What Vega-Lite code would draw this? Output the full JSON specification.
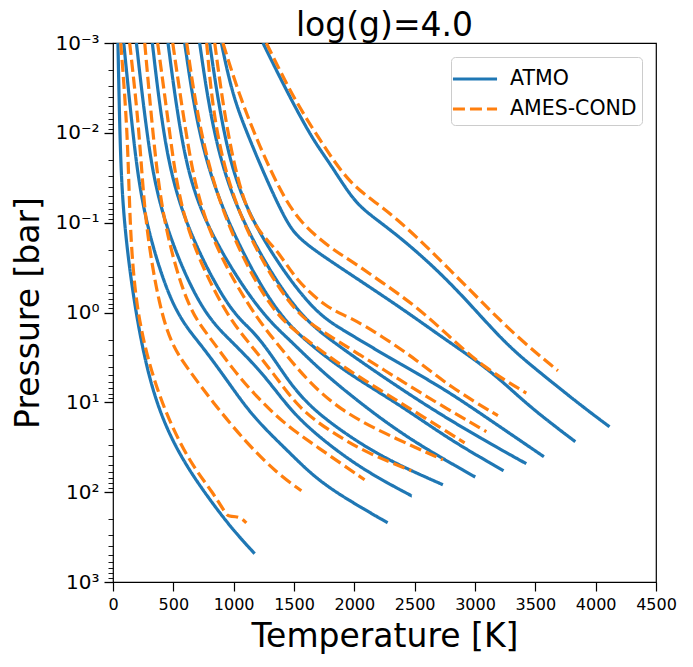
{
  "$schema": "https://vega.github.io/schema/vega-lite/v6.json",
  "width": 543,
  "height": 539,
  "autosize": {"type": "none"},
  "padding": {"left": 113, "top": 43, "right": 37, "bottom": 85},
  "title": {"text": "log(g)=4.0", "fontSize": 33, "font": "DejaVu Sans", "fontWeight": "normal", "color": "black", "anchor": "middle", "offset": -10},
  "config": {
    "font": "DejaVu Sans",
    "view": {"stroke": "black", "strokeWidth": 1.2},
    "axis": {"domain": false, "grid": false, "tickColor": "black", "tickWidth": 1.2, "labelColor": "black", "titleColor": "black", "titleFontWeight": "normal", "labelFont": "DejaVu Sans", "titleFont": "DejaVu Sans"}
  },
  "data": {
    "values": [
      {"model": "ATMO", "id": "a1", "T": 41, "P": 0.001},
      {"model": "ATMO", "id": "a1", "T": 56, "P": 0.01},
      {"model": "ATMO", "id": "a1", "T": 80, "P": 0.0815},
      {"model": "ATMO", "id": "a1", "T": 180, "P": 0.931},
      {"model": "ATMO", "id": "a1", "T": 304, "P": 6.05},
      {"model": "ATMO", "id": "a1", "T": 445, "P": 20.2},
      {"model": "ATMO", "id": "a1", "T": 611, "P": 52.1},
      {"model": "ATMO", "id": "a1", "T": 801, "P": 121},
      {"model": "ATMO", "id": "a1", "T": 992, "P": 262},
      {"model": "ATMO", "id": "a1", "T": 1174, "P": 484},

      {"model": "ATMO", "id": "a2", "T": 89, "P": 0.001},
      {"model": "ATMO", "id": "a2", "T": 163, "P": 0.01},
      {"model": "ATMO", "id": "a2", "T": 246, "P": 0.0815},
      {"model": "ATMO", "id": "a2", "T": 486, "P": 0.931},
      {"model": "ATMO", "id": "a2", "T": 718, "P": 2.17},
      {"model": "ATMO", "id": "a2", "T": 942, "P": 5.6},
      {"model": "ATMO", "id": "a2", "T": 1157, "P": 14.5},
      {"model": "ATMO", "id": "a2", "T": 1439, "P": 33.7},
      {"model": "ATMO", "id": "a2", "T": 1688, "P": 72.7},
      {"model": "ATMO", "id": "a2", "T": 1986, "P": 131},
      {"model": "ATMO", "id": "a2", "T": 2276, "P": 219},

      {"model": "ATMO", "id": "a3", "T": 194, "P": 0.001},
      {"model": "ATMO", "id": "a3", "T": 277, "P": 0.01},
      {"model": "ATMO", "id": "a3", "T": 387, "P": 0.0815},
      {"model": "ATMO", "id": "a3", "T": 718, "P": 0.931},
      {"model": "ATMO", "id": "a3", "T": 967, "P": 2.01},
      {"model": "ATMO", "id": "a3", "T": 1241, "P": 4.68},
      {"model": "ATMO", "id": "a3", "T": 1464, "P": 12.1},
      {"model": "ATMO", "id": "a3", "T": 1712, "P": 24.8},
      {"model": "ATMO", "id": "a3", "T": 2069, "P": 56.3},
      {"model": "ATMO", "id": "a3", "T": 2475, "P": 110},
      {"model": "ATMO", "id": "a3", "T": 2476, "P": 110},

      {"model": "ATMO", "id": "a4", "T": 326, "P": 0.001},
      {"model": "ATMO", "id": "a4", "T": 412, "P": 0.01},
      {"model": "ATMO", "id": "a4", "T": 553, "P": 0.0815},
      {"model": "ATMO", "id": "a4", "T": 950, "P": 0.931},
      {"model": "ATMO", "id": "a4", "T": 1157, "P": 1.556},
      {"model": "ATMO", "id": "a4", "T": 1323, "P": 3.11},
      {"model": "ATMO", "id": "a4", "T": 1464, "P": 6.05},
      {"model": "ATMO", "id": "a4", "T": 1605, "P": 10.1},
      {"model": "ATMO", "id": "a4", "T": 1795, "P": 16.9},
      {"model": "ATMO", "id": "a4", "T": 2210, "P": 40.3},
      {"model": "ATMO", "id": "a4", "T": 2734, "P": 82.7},

      {"model": "ATMO", "id": "a5", "T": 456, "P": 0.001},
      {"model": "ATMO", "id": "a5", "T": 553, "P": 0.01},
      {"model": "ATMO", "id": "a5", "T": 702, "P": 0.0815},
      {"model": "ATMO", "id": "a5", "T": 1191, "P": 0.931},
      {"model": "ATMO", "id": "a5", "T": 1464, "P": 2.01},
      {"model": "ATMO", "id": "a5", "T": 1712, "P": 4.33},
      {"model": "ATMO", "id": "a5", "T": 2044, "P": 10.1},
      {"model": "ATMO", "id": "a5", "T": 2458, "P": 26.1},
      {"model": "ATMO", "id": "a5", "T": 3002, "P": 67.8},

      {"model": "ATMO", "id": "a6", "T": 594, "P": 0.001},
      {"model": "ATMO", "id": "a6", "T": 702, "P": 0.01},
      {"model": "ATMO", "id": "a6", "T": 909, "P": 0.0815},
      {"model": "ATMO", "id": "a6", "T": 1323, "P": 0.931},
      {"model": "ATMO", "id": "a6", "T": 1630, "P": 2.28},
      {"model": "ATMO", "id": "a6", "T": 1961, "P": 4.92},
      {"model": "ATMO", "id": "a6", "T": 2375, "P": 10.6},
      {"model": "ATMO", "id": "a6", "T": 2790, "P": 26.1},
      {"model": "ATMO", "id": "a6", "T": 3237, "P": 57.7},

      {"model": "ATMO", "id": "a7", "T": 718, "P": 0.001},
      {"model": "ATMO", "id": "a7", "T": 826, "P": 0.01},
      {"model": "ATMO", "id": "a7", "T": 1025, "P": 0.0815},
      {"model": "ATMO", "id": "a7", "T": 1489, "P": 0.931},
      {"model": "ATMO", "id": "a7", "T": 1795, "P": 2.01},
      {"model": "ATMO", "id": "a7", "T": 2210, "P": 4.92},
      {"model": "ATMO", "id": "a7", "T": 2624, "P": 11.5},
      {"model": "ATMO", "id": "a7", "T": 3038, "P": 24.8},
      {"model": "ATMO", "id": "a7", "T": 3425, "P": 48.2},

      {"model": "ATMO", "id": "a8", "T": 801, "P": 0.001},
      {"model": "ATMO", "id": "a8", "T": 909, "P": 0.01},
      {"model": "ATMO", "id": "a8", "T": 1091, "P": 0.0815},
      {"model": "ATMO", "id": "a8", "T": 1630, "P": 0.931},
      {"model": "ATMO", "id": "a8", "T": 1903, "P": 1.556},
      {"model": "ATMO", "id": "a8", "T": 2317, "P": 3.36},
      {"model": "ATMO", "id": "a8", "T": 2732, "P": 6.88},
      {"model": "ATMO", "id": "a8", "T": 3121, "P": 15.6},
      {"model": "ATMO", "id": "a8", "T": 3571, "P": 40.3},

      {"model": "ATMO", "id": "a9", "T": 898, "P": 0.001},
      {"model": "ATMO", "id": "a9", "T": 992, "P": 0.00396},
      {"model": "ATMO", "id": "a9", "T": 1133, "P": 0.0119},
      {"model": "ATMO", "id": "a9", "T": 1273, "P": 0.0333},
      {"model": "ATMO", "id": "a9", "T": 1439, "P": 0.1},
      {"model": "ATMO", "id": "a9", "T": 1547, "P": 0.155},
      {"model": "ATMO", "id": "a9", "T": 1820, "P": 0.279},
      {"model": "ATMO", "id": "a9", "T": 2375, "P": 0.861},
      {"model": "ATMO", "id": "a9", "T": 2732, "P": 1.91},
      {"model": "ATMO", "id": "a9", "T": 3146, "P": 4.56},
      {"model": "ATMO", "id": "a9", "T": 3427, "P": 10.6},
      {"model": "ATMO", "id": "a9", "T": 3831, "P": 27.4},

      {"model": "ATMO", "id": "a10", "T": 1243, "P": 0.001},
      {"model": "ATMO", "id": "a10", "T": 1323, "P": 0.00166},
      {"model": "ATMO", "id": "a10", "T": 1464, "P": 0.00396},
      {"model": "ATMO", "id": "a10", "T": 1655, "P": 0.0119},
      {"model": "ATMO", "id": "a10", "T": 1795, "P": 0.0215},
      {"model": "ATMO", "id": "a10", "T": 1986, "P": 0.0555},
      {"model": "ATMO", "id": "a10", "T": 2127, "P": 0.0815},
      {"model": "ATMO", "id": "a10", "T": 2375, "P": 0.143},
      {"model": "ATMO", "id": "a10", "T": 2732, "P": 0.379},
      {"model": "ATMO", "id": "a10", "T": 3038, "P": 1.06},
      {"model": "ATMO", "id": "a10", "T": 3287, "P": 2.46},
      {"model": "ATMO", "id": "a10", "T": 3560, "P": 4.92},
      {"model": "ATMO", "id": "a10", "T": 3892, "P": 11.2},
      {"model": "ATMO", "id": "a10", "T": 4115, "P": 18.7},

      {"model": "AMES-COND", "id": "c1", "T": 64, "P": 0.001},
      {"model": "AMES-COND", "id": "c1", "T": 122, "P": 0.01},
      {"model": "AMES-COND", "id": "c1", "T": 138, "P": 0.1},
      {"model": "AMES-COND", "id": "c1", "T": 188, "P": 0.931},
      {"model": "AMES-COND", "id": "c1", "T": 331, "P": 5.6},
      {"model": "AMES-COND", "id": "c1", "T": 497, "P": 20.2},
      {"model": "AMES-COND", "id": "c1", "T": 663, "P": 52.1},
      {"model": "AMES-COND", "id": "c1", "T": 829, "P": 101},
      {"model": "AMES-COND", "id": "c1", "T": 940, "P": 180},
      {"model": "AMES-COND", "id": "c1", "T": 960, "P": 186},
      {"model": "AMES-COND", "id": "c1", "T": 1050, "P": 186},
      {"model": "AMES-COND", "id": "c1", "T": 1105, "P": 220},

      {"model": "AMES-COND", "id": "c2", "T": 138, "P": 0.001},
      {"model": "AMES-COND", "id": "c2", "T": 221, "P": 0.01},
      {"model": "AMES-COND", "id": "c2", "T": 263, "P": 0.1},
      {"model": "AMES-COND", "id": "c2", "T": 387, "P": 0.931},
      {"model": "AMES-COND", "id": "c2", "T": 495, "P": 2.4},
      {"model": "AMES-COND", "id": "c2", "T": 608, "P": 4.01},
      {"model": "AMES-COND", "id": "c2", "T": 829, "P": 10.1},
      {"model": "AMES-COND", "id": "c2", "T": 1105, "P": 28.2},
      {"model": "AMES-COND", "id": "c2", "T": 1354, "P": 60.8},
      {"model": "AMES-COND", "id": "c2", "T": 1561, "P": 96.4},

      {"model": "AMES-COND", "id": "c3", "T": 263, "P": 0.001},
      {"model": "AMES-COND", "id": "c3", "T": 329, "P": 0.01},
      {"model": "AMES-COND", "id": "c3", "T": 412, "P": 0.1},
      {"model": "AMES-COND", "id": "c3", "T": 619, "P": 0.931},
      {"model": "AMES-COND", "id": "c3", "T": 801, "P": 1.86},
      {"model": "AMES-COND", "id": "c3", "T": 994, "P": 4.33},
      {"model": "AMES-COND", "id": "c3", "T": 1188, "P": 8.6},
      {"model": "AMES-COND", "id": "c3", "T": 1409, "P": 16.9},
      {"model": "AMES-COND", "id": "c3", "T": 1685, "P": 31.0},
      {"model": "AMES-COND", "id": "c3", "T": 2085, "P": 72.7},

      {"model": "AMES-COND", "id": "c4", "T": 370, "P": 0.001},
      {"model": "AMES-COND", "id": "c4", "T": 470, "P": 0.01},
      {"model": "AMES-COND", "id": "c4", "T": 569, "P": 0.1},
      {"model": "AMES-COND", "id": "c4", "T": 909, "P": 0.931},
      {"model": "AMES-COND", "id": "c4", "T": 1105, "P": 2.01},
      {"model": "AMES-COND", "id": "c4", "T": 1326, "P": 4.68},
      {"model": "AMES-COND", "id": "c4", "T": 1547, "P": 12.1},
      {"model": "AMES-COND", "id": "c4", "T": 1820, "P": 21.8},
      {"model": "AMES-COND", "id": "c4", "T": 2099, "P": 36.4},
      {"model": "AMES-COND", "id": "c4", "T": 2472, "P": 57.7},

      {"model": "AMES-COND", "id": "c5", "T": 495, "P": 0.001},
      {"model": "AMES-COND", "id": "c5", "T": 602, "P": 0.01},
      {"model": "AMES-COND", "id": "c5", "T": 735, "P": 0.1},
      {"model": "AMES-COND", "id": "c5", "T": 1133, "P": 0.931},
      {"model": "AMES-COND", "id": "c5", "T": 1381, "P": 2.4},
      {"model": "AMES-COND", "id": "c5", "T": 1602, "P": 5.6},
      {"model": "AMES-COND", "id": "c5", "T": 1878, "P": 12.1},
      {"model": "AMES-COND", "id": "c5", "T": 2234, "P": 21.8},
      {"model": "AMES-COND", "id": "c5", "T": 2734, "P": 43.6},

      {"model": "AMES-COND", "id": "c6", "T": 611, "P": 0.001},
      {"model": "AMES-COND", "id": "c6", "T": 718, "P": 0.01},
      {"model": "AMES-COND", "id": "c6", "T": 925, "P": 0.1},
      {"model": "AMES-COND", "id": "c6", "T": 1298, "P": 0.931},
      {"model": "AMES-COND", "id": "c6", "T": 1547, "P": 1.767},
      {"model": "AMES-COND", "id": "c6", "T": 1878, "P": 3.81},
      {"model": "AMES-COND", "id": "c6", "T": 2210, "P": 7.24},
      {"model": "AMES-COND", "id": "c6", "T": 2541, "P": 13.7},
      {"model": "AMES-COND", "id": "c6", "T": 2914, "P": 28.2},

      {"model": "AMES-COND", "id": "c7", "T": 776, "P": 0.001},
      {"model": "AMES-COND", "id": "c7", "T": 843, "P": 0.01},
      {"model": "AMES-COND", "id": "c7", "T": 1050, "P": 0.1},
      {"model": "AMES-COND", "id": "c7", "T": 1472, "P": 0.931},
      {"model": "AMES-COND", "id": "c7", "T": 1712, "P": 1.556},
      {"model": "AMES-COND", "id": "c7", "T": 2044, "P": 2.95},
      {"model": "AMES-COND", "id": "c7", "T": 2375, "P": 5.6},
      {"model": "AMES-COND", "id": "c7", "T": 2707, "P": 10.6},
      {"model": "AMES-COND", "id": "c7", "T": 3094, "P": 21.2},

      {"model": "AMES-COND", "id": "c8", "T": 843, "P": 0.001},
      {"model": "AMES-COND", "id": "c8", "T": 942, "P": 0.01},
      {"model": "AMES-COND", "id": "c8", "T": 1116, "P": 0.1},
      {"model": "AMES-COND", "id": "c8", "T": 1356, "P": 0.19},
      {"model": "AMES-COND", "id": "c8", "T": 1522, "P": 0.454},
      {"model": "AMES-COND", "id": "c8", "T": 1795, "P": 0.931},
      {"model": "AMES-COND", "id": "c8", "T": 1961, "P": 1.115},
      {"model": "AMES-COND", "id": "c8", "T": 2234, "P": 1.86},
      {"model": "AMES-COND", "id": "c8", "T": 2516, "P": 3.36},
      {"model": "AMES-COND", "id": "c8", "T": 2790, "P": 6.7},
      {"model": "AMES-COND", "id": "c8", "T": 3190, "P": 14.1},

      {"model": "AMES-COND", "id": "c9", "T": 911, "P": 0.001},
      {"model": "AMES-COND", "id": "c9", "T": 1050, "P": 0.00396},
      {"model": "AMES-COND", "id": "c9", "T": 1216, "P": 0.01426},
      {"model": "AMES-COND", "id": "c9", "T": 1381, "P": 0.043},
      {"model": "AMES-COND", "id": "c9", "T": 1547, "P": 0.1},
      {"model": "AMES-COND", "id": "c9", "T": 1820, "P": 0.2},
      {"model": "AMES-COND", "id": "c9", "T": 1961, "P": 0.258},
      {"model": "AMES-COND", "id": "c9", "T": 2234, "P": 0.466},
      {"model": "AMES-COND", "id": "c9", "T": 2516, "P": 0.861},
      {"model": "AMES-COND", "id": "c9", "T": 2790, "P": 1.86},
      {"model": "AMES-COND", "id": "c9", "T": 3063, "P": 4.01},
      {"model": "AMES-COND", "id": "c9", "T": 3425, "P": 7.9},

      {"model": "AMES-COND", "id": "c10", "T": 1271, "P": 0.001},
      {"model": "AMES-COND", "id": "c10", "T": 1489, "P": 0.00396},
      {"model": "AMES-COND", "id": "c10", "T": 1712, "P": 0.0119},
      {"model": "AMES-COND", "id": "c10", "T": 1961, "P": 0.0378},
      {"model": "AMES-COND", "id": "c10", "T": 2234, "P": 0.0664},
      {"model": "AMES-COND", "id": "c10", "T": 2516, "P": 0.143},
      {"model": "AMES-COND", "id": "c10", "T": 2790, "P": 0.334},
      {"model": "AMES-COND", "id": "c10", "T": 3063, "P": 0.778},
      {"model": "AMES-COND", "id": "c10", "T": 3345, "P": 1.86},
      {"model": "AMES-COND", "id": "c10", "T": 3687, "P": 4.45}
    ]
  },
  "encoding": {
    "x": {
      "field": "T", "type": "quantitative",
      "scale": {"domain": [0, 4500], "nice": false, "zero": false},
      "axis": {
        "title": "Temperature [K]",
        "values": [0, 500, 1000, 1500, 2000, 2500, 3000, 3500, 4000, 4500],
        "format": "d",
        "tickSize": 9,
        "labelFontSize": 16,
        "labelPadding": 5,
        "labelFlush": false,
        "labelOverlap": false,
        "titleFontSize": 33,
        "titlePadding": 8
      }
    },
    "y": {
      "field": "P", "type": "quantitative",
      "scale": {"type": "log", "domain": [0.001, 1000], "reverse": true, "nice": false},
      "axis": {
        "title": "Pressure [bar]",
        "values": [0.001, 0.002, 0.003, 0.004, 0.005, 0.006, 0.007, 0.008, 0.009,
                   0.01, 0.02, 0.03, 0.04, 0.05, 0.06, 0.07, 0.08, 0.09,
                   0.1, 0.2, 0.3, 0.4, 0.5, 0.6, 0.7, 0.8, 0.9,
                   1, 2, 3, 4, 5, 6, 7, 8, 9,
                   10, 20, 30, 40, 50, 60, 70, 80, 90,
                   100, 200, 300, 400, 500, 600, 700, 800, 900, 1000],
        "labelExpr": "datum.value == 0.001 ? '10⁻³' : datum.value == 0.01 ? '10⁻²' : datum.value == 0.1 ? '10⁻¹' : datum.value == 1 ? '10⁰' : datum.value == 10 ? '10¹' : datum.value == 100 ? '10²' : datum.value == 1000 ? '10³' : ''",
        "tickSize": {"condition": {"test": "indexof([0.001, 0.01, 0.1, 1, 10, 100, 1000], datum.value) >= 0", "value": 9}, "value": 5},
        "tickWidth": {"condition": {"test": "indexof([0.001, 0.01, 0.1, 1, 10, 100, 1000], datum.value) >= 0", "value": 1.3}, "value": 0.9},
        "labelFontSize": 20,
        "labelPadding": 5,
        "labelOverlap": false,
        "labelFlush": false,
        "titleFontSize": 33,
        "titlePadding": 9
      }
    },
    "color": {
      "field": "model", "type": "nominal",
      "scale": {"domain": ["ATMO", "AMES-COND"], "range": ["#1f77b4", "#ff7f0e"]},
      "legend": {
        "title": null, "orient": "top-right", "offset": 14,
        "symbolType": "M-1.47,0H1.47", "symbolSize": 900, "symbolStrokeWidth": 3.2, "symbolOffset": 2,
        "labelFontSize": 20.5, "labelOffset": 18, "labelColor": "black", "labelFont": "DejaVu Sans",
        "rowPadding": 2, "padding": 5,
        "strokeColor": "#cccccc", "fillColor": "rgba(255,255,255,0.8)", "cornerRadius": 4
      }
    },
    "strokeDash": {
      "field": "model", "type": "nominal",
      "scale": {"domain": ["ATMO", "AMES-COND"], "range": [[1, 0], [12, 5]]},
      "legend": {
        "title": null, "orient": "top-right", "offset": 14,
        "symbolType": "M-1.47,0H1.47", "symbolSize": 900, "symbolStrokeWidth": 3.2, "symbolOffset": 2,
        "labelFontSize": 20.5, "labelOffset": 18, "labelColor": "black", "labelFont": "DejaVu Sans",
        "rowPadding": 2, "padding": 5,
        "strokeColor": "#cccccc", "fillColor": "rgba(255,255,255,0.8)", "cornerRadius": 4
      }
    },
    "detail": {"field": "id", "type": "nominal"}
  },
  "layer": [
    {
      "transform": [{"filter": "datum.model == 'ATMO'"}],
      "mark": {"type": "line", "strokeWidth": 3.2, "interpolate": "basis", "clip": true}
    },
    {
      "transform": [{"filter": "datum.model == 'AMES-COND'"}],
      "mark": {"type": "line", "strokeWidth": 3.2, "interpolate": "basis", "clip": true}
    }
  ]
}
